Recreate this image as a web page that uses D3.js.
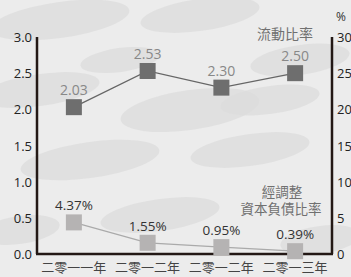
<!DOCTYPE html>
<html>
<head>
<meta charset="utf-8">
<script src="https://d3js.org/d3.v7.min.js"></script>
<style>
  body { margin: 0; }
  text { font-family: "Open Sans", "Noto Sans CJK TC", sans-serif; }
</style>
</head>
<body>
<div id="svgcontainer"></div>
<script>
var width = 351;
var height = 277;

var years = ["二零一一年", "二零一二年", "二零一二年", "二零一三年"];
var currentRatio = [2.03, 2.53, 2.30, 2.50];
var gearing = [4.37, 1.55, 0.95, 0.39];
var leftTicks = [0, 0.5, 1, 1.5, 2, 2.5, 3];
var rightTicks = [0, 5, 10, 15, 20, 25, 30];

var plotLeft = 37, plotRight = 332, plotTop = 37, plotBottom = 254;

var svg = d3.select("#svgcontainer")
    .append("svg")
    .attr("width", width)
    .attr("height", height);

// background with soft blobs
svg.append("rect").attr("width", width).attr("height", height).attr("fill", "#ececec");
var blobs = [[60, 20, 70, 18], [200, 15, 60, 16], [300, 60, 50, 15], [40, 90, 60, 16],
             [190, 110, 70, 20], [90, 160, 70, 18], [250, 150, 60, 16], [160, 215, 60, 16],
             [320, 240, 40, 14], [20, 230, 40, 14], [270, 100, 50, 14], [120, 60, 40, 12]];
svg.selectAll(".blob").data(blobs).enter().append("ellipse")
    .attr("cx", d => d[0]).attr("cy", d => d[1])
    .attr("rx", d => d[2]).attr("ry", d => d[3])
    .attr("transform", d => "rotate(-8," + d[0] + "," + d[1] + ")")
    .attr("fill", "#dcdcdc").attr("opacity", 0.75);

var x = d3.scalePoint().domain(d3.range(years.length)).range([plotLeft, plotRight]).padding(0.5);
var yL = d3.scaleLinear().domain([0, 3]).range([plotBottom, plotTop]);
var yR = d3.scaleLinear().domain([0, 30]).range([plotBottom, plotTop]);

// axes lines
var axisColor = "#231815";
svg.append("line").attr("x1", plotLeft).attr("x2", plotLeft).attr("y1", plotTop).attr("y2", plotBottom)
    .attr("stroke", axisColor).attr("stroke-width", 2.5);
svg.append("line").attr("x1", plotRight).attr("x2", plotRight).attr("y1", plotTop).attr("y2", plotBottom)
    .attr("stroke", axisColor).attr("stroke-width", 2.5);
svg.append("line").attr("x1", plotLeft - 1).attr("x2", plotRight + 1).attr("y1", plotBottom).attr("y2", plotBottom)
    .attr("stroke", axisColor).attr("stroke-width", 2.5);

svg.selectAll(".lt").data(leftTicks).enter().append("text")
    .attr("x", 32).attr("y", d => yL(d) + 5)
    .attr("text-anchor", "end").attr("font-size", 13).attr("fill", "#222")
    .text(d => d.toFixed(1));
svg.selectAll(".rt").data(rightTicks).enter().append("text")
    .attr("x", 337).attr("y", d => yR(d) + 5)
    .attr("font-size", 13).attr("fill", "#222")
    .text(d => d);
svg.append("text").attr("x", 336).attr("y", 21).attr("font-size", 12).attr("fill", "#333").text("%");

svg.selectAll(".xl").data(years).enter().append("text")
    .attr("x", (d, i) => x(i)).attr("y", 272)
    .attr("text-anchor", "middle").attr("font-size", 13).attr("fill", "#444")
    .text(d => d);

// current ratio
svg.append("path").datum(currentRatio)
    .attr("fill", "none").attr("stroke", "#666").attr("stroke-width", 1.2)
    .attr("d", d3.line().x((d, i) => x(i)).y(d => yL(d)));
svg.selectAll(".cr").data(currentRatio).enter().append("rect")
    .attr("x", (d, i) => x(i) - 8).attr("y", d => yL(d) - 8)
    .attr("width", 16).attr("height", 16).attr("fill", "#6e6e6e");
svg.selectAll(".crl").data(currentRatio).enter().append("text")
    .attr("x", (d, i) => x(i)).attr("y", d => yL(d) - 12)
    .attr("text-anchor", "middle").attr("font-size", 14).attr("fill", "#888")
    .text(d => d.toFixed(2));

// gearing
svg.append("path").datum(gearing)
    .attr("fill", "none").attr("stroke", "#aaa").attr("stroke-width", 1.2)
    .attr("d", d3.line().x((d, i) => x(i)).y(d => yR(d)));
svg.selectAll(".gr").data(gearing).enter().append("rect")
    .attr("x", (d, i) => x(i) - 8).attr("y", d => yR(d) - 8)
    .attr("width", 16).attr("height", 16).attr("fill", "#b5b3b3");
svg.selectAll(".grl").data(gearing).enter().append("text")
    .attr("x", (d, i) => x(i)).attr("y", d => yR(d) - 12)
    .attr("text-anchor", "middle").attr("font-size", 13.5).attr("fill", "#333")
    .text(d => d.toFixed(2) + "%");

// series names
svg.append("text").attr("x", 285).attr("y", 39).attr("text-anchor", "middle")
    .attr("font-size", 14).attr("fill", "#707070").text("流動比率");
svg.append("text").attr("x", 282).attr("y", 197).attr("text-anchor", "middle")
    .attr("font-size", 13.5).attr("fill", "#707070").text("經調整");
svg.append("text").attr("x", 281).attr("y", 214).attr("text-anchor", "middle")
    .attr("font-size", 13.5).attr("fill", "#707070").text("資本負債比率");
</script>
</body>
</html>
